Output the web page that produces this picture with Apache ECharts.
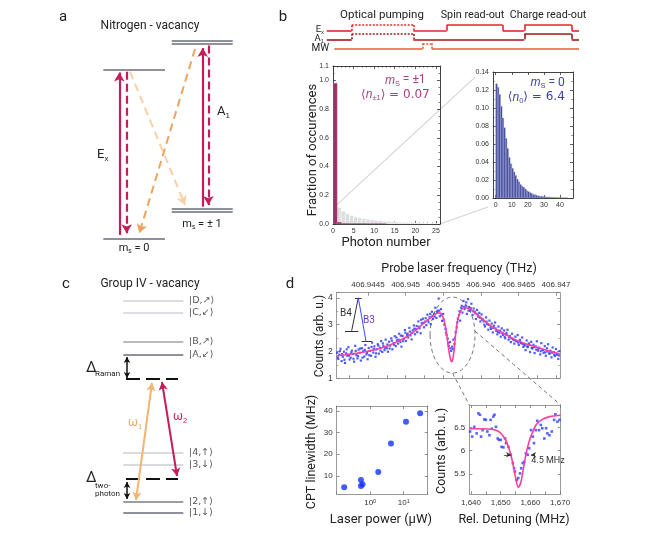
<!DOCTYPE html>
<html>
<head>
<meta charset="utf-8">
<script src="https://cdn.jsdelivr.net/npm/echarts@6/dist/echarts.min.js"></script>
<style>
html, body { margin: 0; background: #fff; }
#chart { width: 664px; height: 538px; }
</style>
</head>
<body>
<div id="chart"></div>
<script>
// ---- data ----
// a: NV centre levels (arb. units): ms=0, ms=±1, Ex, A1
const nvEnergy = [0, 0.168, 1.0, 1.165]
// c: group IV levels (arb. units), bottom to top
const g4Energy = [0, 11, 48, 60, 158, 171, 200, 212]
const g4Labels = ['|1,↓⟩', '|2,↑⟩', '|3,↓⟩', '|4,↑⟩', '|A,↙⟩', '|B,↗⟩', '|C,↙⟩', '|D,↗⟩']
const g4Virtual = [34, 134]
// b: pulse sequence (time units)
const seqEnd = 252.3
const pumpWindow = [25, 86.6]
const exPulses = [[120, 176], [197.6, 245]]
const a1Pulses = [[197.6, 245]]
const mwStart = 7.6
const mwWindow = [96, 105]
// b: photon number histograms, bin n = 0, 1, 2 ...
const dark1Hist = [0.98, 0.012, 0.004, 0.004, 0.003, 0.003, 0.003, 0.003, 0.002, 0.002, 0.002, 0.002, 0.001]
const bright0Ghost = [0.12, 0.115, 0.09, 0.072, 0.06, 0.05, 0.044, 0.039, 0.034, 0.03, 0.026, 0.023, 0.02,
  0.018, 0.016, 0.014, 0.012, 0.011, 0.009, 0.008, 0.007, 0.006, 0.005, 0.004, 0.003, 0.002]
const bright0Hist = [0.127, 0.123, 0.115, 0.102, 0.089, 0.078, 0.066, 0.055, 0.045, 0.038, 0.033, 0.029,
  0.025, 0.021, 0.018, 0.015, 0.013, 0.012, 0.010, 0.008, 0.007, 0.006, 0.005, 0.004, 0.0035, 0.003,
  0.0025, 0.002, 0.002, 0.0018, 0.0015, 0.0012, 0.001, 0.001, 0.0008, 0.0007, 0.0006, 0.0005, 0.0004,
  0.0003, 0.0003, 0.0002, 0.0002, 0.0001, 0.0001]
// d: probe scan, x = MHz above 406.944 THz
const probeOffsetTHz = 406.944
const probeTicks = [500, 1000, 1500, 2000, 2500, 3000]
const probeScan = [
  [90,1.95],[105,1.72],[120,1.88],[135,2.10],[150,1.64],[165,1.80],[180,1.99],[195,1.57],[210,1.93],[225,1.84],
  [240,2.16],[255,1.70],[270,1.77],[285,2.03],[300,1.91],[315,1.62],[330,2.21],[345,1.86],[360,1.74],[375,2.07],
  [390,1.95],[405,1.66],[420,2.12],[435,2.00],[450,1.81],[465,2.24],[480,1.89],[495,1.71],[510,2.13],[525,2.02],
  [540,1.84],[555,2.33],[570,1.96],[585,2.19],[600,1.80],[615,2.08],[630,2.27],[645,1.92],[660,2.14],[675,2.39],
  [690,1.98],[705,2.21],[720,2.05],[735,2.44],[750,2.12],[765,1.99],[780,2.36],[795,2.22],[810,2.49],[825,2.08],
  [840,2.31],[855,2.57],[870,2.20],[885,2.41],[900,2.29],[915,2.66],[930,2.35],[945,2.18],[960,2.58],[975,2.47],
  [990,2.80],[1005,2.39],[1020,2.61],[1035,2.52],[1050,2.88],[1065,2.60],[1080,2.45],[1095,2.79],[1110,2.97],[1125,2.64],
  [1140,2.83],[1155,2.72],[1170,3.12],[1185,2.86],[1200,2.68],[1215,3.05],[1230,3.22],[1245,2.90],[1260,3.11],[1275,2.98],
  [1290,3.37],[1305,3.09],[1320,3.28],[1335,3.02],[1350,3.48],[1365,3.21],[1380,3.40],[1395,3.63],[1410,3.25],[1425,3.52],
  [1440,3.97],[1455,3.31],[1470,3.58],[1485,3.14],[1500,3.40],[1515,3.00],[1530,2.84],[1545,2.62],[1560,2.48],[1575,2.21],
  [1590,2.35],[1605,2.02],[1620,2.18],[1635,2.44],[1650,2.28],[1665,2.72],[1680,2.90],[1695,3.22],[1710,3.36],[1725,3.15],
  [1740,3.62],[1755,3.45],[1770,3.88],[1785,3.58],[1800,3.71],[1815,3.40],[1830,3.95],[1845,3.66],[1860,3.52],[1875,3.78],
  [1890,3.36],[1905,3.60],[1920,3.48],[1935,3.21],[1950,3.55],[1965,3.30],[1980,3.44],[1995,3.12],[2010,3.38],[2025,3.20],
  [2040,3.12],[2055,2.93],[2070,3.27],[2085,3.02],[2100,2.81],[2115,3.15],[2130,2.90],[2145,3.04],[2160,2.71],[2175,2.96],
  [2190,3.08],[2205,2.77],[2220,2.64],[2235,2.93],[2250,2.70],[2265,2.55],[2280,2.86],[2295,2.62],[2310,2.78],[2325,2.49],
  [2340,2.69],[2355,2.81],[2370,2.44],[2385,2.58],[2400,2.35],[2415,2.66],[2430,2.47],[2445,2.29],[2460,2.55],[2475,2.38],
  [2490,2.61],[2505,2.24],[2520,2.43],[2535,2.31],[2550,2.52],[2565,2.17],[2580,2.22],[2595,2.05],[2610,2.41],[2625,2.16],
  [2640,2.30],[2655,1.98],[2670,2.36],[2685,2.11],[2700,2.25],[2715,1.94],[2730,2.19],[2745,2.38],[2760,2.03],[2775,2.14],
  [2790,1.89],[2805,2.31],[2820,2.06],[2835,1.95],[2850,2.20],[2865,1.84],[2880,2.12],[2895,2.27],[2910,1.92],[2925,2.03],
  [2940,1.78],[2955,2.15],[2970,1.97],[2985,1.83],[3000,2.09],[3015,1.88],[3030,1.72],[3045,2.01],
  [97,1.78],[127,2.01],[157,1.90],[187,1.69],[217,2.08],[247,1.85],[277,1.96],[307,1.73],[337,2.02],[367,1.83],
  [397,2.11],[427,1.77],[457,2.06],[487,1.95],[517,1.86],[547,2.17],[577,2.09],[607,1.93],[637,2.22],[667,2.03],
  [697,2.30],[727,2.14],[757,2.26],[787,2.11],[817,2.40],[847,2.25],[877,2.52],[907,2.44],[937,2.59],[967,2.38],
  [997,2.70],[1027,2.66],[1057,2.74],[1087,2.69],[1117,2.85],[1147,2.95],[1177,2.92],[1207,3.18],[1237,3.07],[1267,3.24],
  [1297,3.17],[1327,3.40],[1357,3.33],[1387,3.30],[1417,3.47],[1447,3.52],[1477,3.36],[1507,3.18],[1537,2.70],[1567,2.31],
  [1597,2.12],[1627,2.09],[1657,2.51],[1687,3.08],[1717,3.50],[1747,3.70],[1777,3.66],[1807,3.83],[1837,3.52],[1867,3.61],
  [1897,3.50],[1927,3.42],[1957,3.38],[1987,3.26],[2017,3.19],[2047,3.00],[2077,3.11],[2107,2.99],[2137,2.84],[2167,2.88],
  [2197,2.86],[2227,2.73],[2257,2.78],[2287,2.68],[2317,2.55],[2347,2.62],[2377,2.53],[2407,2.49],[2437,2.42],[2467,2.40],
  [2497,2.33],[2527,2.35],[2557,2.28],[2587,2.26],[2617,2.19],[2647,2.24],[2677,2.13],[2707,2.16],[2737,2.07],[2767,2.10],
  [2797,2.01],[2827,2.05],[2857,1.97],[2887,2.00],[2917,1.93],[2947,1.96],[2977,1.88],[3007,1.92],[3037,1.85]
]
const probeFit = [[84,1.83],[200,1.88],[350,1.93],[450,1.98],[570,2.05],[700,2.15],[793,2.24],[900,2.38],[1015,2.55],
  [1130,2.78],[1235,3.04],[1330,3.25],[1414,3.42],[1450,3.44],[1480,3.38],[1505,3.22],[1530,2.92],[1555,2.45],
  [1580,1.95],[1600,1.68],[1613,1.62],[1628,1.72],[1645,2.05],[1662,2.55],[1680,2.95],[1700,3.25],[1723,3.45],
  [1755,3.6],[1790,3.64],[1830,3.61],[1879,3.54],[1989,3.29],[2122,2.98],[2230,2.78],[2344,2.61],[2450,2.45],
  [2565,2.32],[2680,2.21],[2787,2.12],[2920,2.01],[3053,1.9]]
// d: CPT linewidth vs laser power
const cptPower = [0.167, 0.53, 0.53, 0.59, 1.74, 4.17, 11.7, 30.9]
const cptWidth = [4.8, 8.2, 5.4, 6.2, 11.8, 25, 35, 38.9]
// d: zoom on the CPT dip
const dipScan = [[1639.7,6.41],[1640.4,6.30],[1641.1,6.51],[1641.9,6.37],[1642.5,6.80],[1643,6.77],[1643.4,6.30],
  [1643.9,6.44],[1644.5,6.67],[1645,6.66],[1645.5,6.41],[1646.2,6.33],[1646.6,6.66],[1647,6.47],[1647.5,6.73],
  [1647.9,6.77],[1648.4,6.51],[1649,6.26],[1649.4,6.23],[1650,6.23],[1650.3,6.08],[1650.9,6.07],[1651.5,6.26],
  [1651.8,6.16],[1652.6,6.08],[1653.4,5.91],[1654.1,5.73],[1654.5,5.62],[1654.8,5.55],[1655.4,5.37],[1655.9,5.41],
  [1656.5,5.51],[1656.9,5.62],[1657.4,5.73],[1657.9,5.76],[1658.5,5.94],[1659.1,5.91],[1659.6,6.05],[1660.2,6.44],
  [1660.8,6.30],[1661.2,6.16],[1661.8,6.44],[1662.3,6.64],[1662.9,6.44],[1663.5,6.55],[1664,6.48],[1664.7,6.26],
  [1665.3,6.48],[1665.7,6.37],[1666.4,6.33],[1667.2,6.41],[1668,6.66],[1668.4,6.78],[1669.1,6.62],[1669.8,6.66]]
const dipFit = [[1639.5,6.47],[1644,6.47],[1647,6.46],[1649,6.42],[1650.5,6.34],[1652,6.18],[1653,6.0],[1654,5.75],
  [1655,5.42],[1655.9,5.21],[1656.8,5.32],[1657.6,5.6],[1658.5,5.92],[1659.5,6.18],[1660.5,6.36],[1662,6.56],
  [1664,6.67],[1666.5,6.73],[1670.2,6.76]]
const dipWidthMHz = 4.5

// ---- styles ----
const FONT = 'Roboto, "Liberation Sans", sans-serif'
const TICKFONT = '"Liberation Sans", Arial, sans-serif'
const CRIMSON = '#c41e5a'
const LEVEL = '#8e909c'
const g4Colors = ['#8e909c', '#9a9ca8', '#d9dae0', '#d9dae0', '#8e909c', '#b8bac4', '#dcdde2', '#dcdde2']

const chart = echarts.init(document.getElementById('chart'))

function seg(a, b, style, s1, s2, size) {
  return [
    { coord: a, symbol: s1 || 'none', symbolSize: size || 8, lineStyle: style },
    { coord: b, symbol: s2 || 'none', symbolSize: size || 8 }
  ]
}
function markSeries(xi, yi, lines) {
  return {
    type: 'line', xAxisIndex: xi, yAxisIndex: yi, data: [], silent: true,
    markLine: { silent: true, animation: false, symbol: 'none', label: { show: false },
      emphasis: { disabled: true }, data: lines }
  }
}
function hidden(grid, min, max) {
  return { gridIndex: grid, type: 'value', min, max, show: false }
}
function ax(grid, pos, o) {
  const c = o.color || '#333'
  return {
    gridIndex: grid, position: pos, type: o.type || 'value', min: o.min, max: o.max,
    interval: o.interval, logBase: 10,
    axisLine: { show: true, onZero: false, lineStyle: { color: o.line || c, width: 1 } },
    splitLine: { show: false },
    axisTick: { show: true, inside: true, length: 3, customValues: o.ticks, lineStyle: { color: c, width: 0.8 } },
    minorTick: { show: !!o.minor, splitNumber: o.minor || 5, length: 1.6, lineStyle: { color: c, width: 0.6 } },
    axisLabel: o.labels ? {
      show: true, customValues: o.labelValues, formatter: o.fmt, fontSize: o.fontSize || 8,
      color: '#333', margin: 4, fontFamily: TICKFONT, rich: o.rich
    } : { show: false }
  }
}

// ---- a: NV level diagram ----
const [E0, E1, EX, EA] = nvEnergy
const L = [3.3, 65], R = [71.7, 132.7]
const lv = { color: LEVEL, width: 2, type: 'solid' }
const nvLines = [
  seg([L[0], E0], [L[1], E0], lv),
  seg([L[0], EX], [L[1], EX], lv),
  seg([R[0], E1 - 0.01], [R[1], E1 - 0.01], lv),
  seg([R[0], E1 + 0.01], [R[1], E1 + 0.01], lv),
  seg([R[0], EA - 0.01], [R[1], EA - 0.01], lv),
  seg([R[0], EA + 0.01], [R[1], EA + 0.01], lv),
  seg([19.3, E0 + 0.02], [19.3, EX - 0.015], { color: CRIMSON, width: 2.2, type: 'solid' }, 'none', 'arrow', [8, 9]),
  seg([26.7, EX - 0.01], [26.7, E0 + 0.03], { color: CRIMSON, width: 2.2, type: [8, 4] }, 'none', 'arrow', [8, 9]),
  seg([102.7, E1 + 0.02], [102.7, EA - 0.035], { color: CRIMSON, width: 2.2, type: 'solid' }, 'none', 'arrow', [8, 9]),
  seg([108.3, EA - 0.02], [108.3, E1 + 0.03], { color: CRIMSON, width: 2.2, type: [8, 4] }, 'none', 'arrow', [8, 9]),
  seg([30, EX - 0.01], [85, E1 + 0.03], { color: '#f7cfa8', width: 2, type: [8, 5] }, 'none', 'arrow', [8, 9]),
  seg([95, EA - 0.04], [39.3, E0 + 0.03], { color: '#eca45e', width: 2, type: [8, 5] }, 'none', 'arrow', [8, 9])
]

// ---- c: group IV level diagram ----
const g4Lines = g4Energy.map((e, i) => seg([23.3, e], [83.3, e], { color: g4Colors[i], width: 2, type: 'solid' }))
g4Virtual.forEach(e => g4Lines.push(seg([26, e], [78, e], { color: '#111', width: 2.2, type: [14, 6] })))
g4Lines.push(
  seg([36, g4Energy[1] + 2], [52, g4Virtual[1] - 4], { color: '#f2b474', width: 2, type: 'solid' }, 'arrow', 'arrow', [7, 8]),
  seg([62, g4Virtual[1] - 3], [77, g4Virtual[0] + 3], { color: CRIMSON, width: 2, type: 'solid' }, 'arrow', 'arrow', [7, 8]),
  seg([27, g4Energy[4] - 2], [27, g4Virtual[1] + 1], { color: '#111', width: 1.5, type: 'solid' }, 'arrow', 'arrow', [5, 6]),
  seg([27, g4Virtual[0] - 3], [27, g4Energy[1] + 3], { color: '#111', width: 1.5, type: 'solid' }, 'arrow', 'arrow', [5, 6])
)

// ---- b: pulse sequence ----
function pulseTrain(base, amp, start, pulses, dotted, color) {
  const solid = { color, width: 1.6, type: 'solid' }
  const dots = { color, width: 1.6, type: [2, 1.5] }
  const ev = pulses.map(p => ({ a: p[0], b: p[1], st: solid }))
  if (dotted) ev.push({ a: dotted[0], b: dotted[1], st: dots })
  ev.sort((p, q) => p.a - q.a)
  const out = []
  let t = start
  const hi = base + amp
  ev.forEach(p => {
    if (p.a > t) out.push(seg([t, base], [p.a, base], solid))
    out.push(seg([p.a, base], [p.a, hi], p.st), seg([p.a, hi], [p.b, hi], p.st), seg([p.b, hi], [p.b, base], p.st))
    t = p.b
  })
  out.push(seg([t, base], [seqEnd, base], solid))
  return out
}
const seqLines = [
  ...pulseTrain(2.27, 0.67, 0, exPulses, pumpWindow, '#e4262c'),
  ...pulseTrain(1.26, 0.62, 0, a1Pulses, pumpWindow, '#a3191c'),
  ...pulseTrain(0.15, 0.64, mwStart, [], mwWindow, '#f05a30')
]

// ---- histograms ----
function histSeries(xi, yi, values, fill, stroke) {
  return {
    type: 'custom', xAxisIndex: xi, yAxisIndex: yi, silent: true, clip: true,
    data: values.map((v, n) => [n, v]), encode: { x: 0, y: 1 },
    renderItem(params, api) {
      const n = api.value(0), v = api.value(1)
      const p0 = api.coord([n, 0]), p1 = api.coord([n + 1, v])
      return { type: 'rect', shape: { x: p0[0], y: p1[1], width: p1[0] - p0[0], height: p0[1] - p1[1] },
        style: { fill, stroke, lineWidth: 0.5 } }
    }
  }
}

const supRich = { b: { fontSize: 8, fontFamily: TICKFONT, color: '#333' }, s: { fontSize: 5.5, fontFamily: TICKFONT, color: '#333', verticalAlign: 'top', lineHeight: 6, padding: [0, 0, 5, 0] } }
const HB = '#444', DB = '#9a9a9a'

const option = {
  animation: false,
  textStyle: { fontFamily: FONT },
  grid: [
    { left: 100, top: 36.3, width: 140, height: 202 },
    { left: 100, top: 283, width: 110, height: 230 },
    { left: 326.7, top: 20.25, width: 252.3, height: 29.75 },
    { left: 333, top: 66, width: 107, height: 158 },
    { left: 493, top: 72, width: 80, height: 126 },
    { left: 336.7, top: 292.7, width: 223.3, height: 85.6 },
    { left: 336.7, top: 406, width: 91, height: 88.3 },
    { left: 469.3, top: 405, width: 91.4, height: 89.3 }
  ],
  xAxis: [
    hidden(0, 0, 140),
    hidden(1, 0, 110),
    hidden(2, 0, seqEnd),
    ax(3, 'bottom', { min: 0, max: 26, interval: 5, minor: 5, labels: true, fontSize: 7, line: HB }),
    ax(3, 'top', { min: 0, max: 26, interval: 5, minor: 5, line: HB }),
    ax(4, 'bottom', { min: -1.68, max: 48.1, ticks: [0, 10, 20, 30, 40], labelValues: [0, 10, 20, 30, 40], labels: true, fontSize: 7, line: HB }),
    ax(4, 'top', { min: -1.68, max: 48.1, ticks: [0, 10, 20, 30, 40], line: HB }),
    ax(5, 'top', { min: 84, max: 3053, ticks: probeTicks, labelValues: probeTicks, labels: true, color: '#777', line: DB, fontSize: 8,
      fmt: v => String(+(probeOffsetTHz + v / 1e6).toFixed(4)) }),
    ax(5, 'bottom', { min: 84, max: 3053, ticks: [250, 500, 750, 1000, 1250, 1500, 1750, 2000, 2250, 2500, 2750, 3000], color: '#777', line: DB }),
    ax(6, 'bottom', { type: 'log', min: 0.1, max: 52, labels: true, color: '#777', line: DB, rich: supRich,
      fmt: v => (Math.abs(v - 1) < 1e-9 ? '{b|10}{s|0}' : Math.abs(v - 10) < 1e-9 ? '{b|10}{s|1}' : '') }),
    ax(6, 'top', { type: 'log', min: 0.1, max: 52, color: '#777', line: DB }),
    ax(7, 'bottom', { min: 1639.43, max: 1670.2, ticks: [1640, 1645, 1650, 1655, 1660, 1665, 1670], labelValues: [1640, 1650, 1660, 1670],
      labels: true, color: '#777', line: DB, fmt: v => v.toLocaleString('en-US') }),
    ax(7, 'top', { min: 1639.43, max: 1670.2, ticks: [1640, 1645, 1650, 1655, 1660, 1665, 1670], color: '#777', line: DB })
  ],
  yAxis: [
    hidden(0, 0, 1.2),
    hidden(1, 0, 230),
    hidden(2, 0, 3.5),
    ax(3, 'left', { min: 0, max: 1.1, interval: 0.2, minor: 4, labels: true, fontSize: 7, line: HB, fmt: v => v.toFixed(1) }),
    ax(3, 'right', { min: 0, max: 1.1, interval: 0.2, minor: 4, line: HB }),
    ax(4, 'left', { min: 0, max: 0.14, interval: 0.02, minor: 2, labels: true, fontSize: 7, line: HB, fmt: v => v.toFixed(2) }),
    ax(4, 'right', { min: 0, max: 0.14, interval: 0.02, minor: 2, line: HB }),
    ax(5, 'left', { min: 1, max: 4.19, interval: 1, minor: 2, labels: true, color: '#777', line: DB, fontSize: 8.5 }),
    ax(5, 'right', { min: 1, max: 4.19, interval: 1, minor: 2, color: '#777', line: DB }),
    ax(6, 'left', { min: 1.6, max: 42.2, ticks: [10, 20, 30, 40], labelValues: [10, 20, 30, 40], labels: true, color: '#777', line: DB }),
    ax(6, 'right', { min: 1.6, max: 42.2, ticks: [10, 20, 30, 40], color: '#777', line: DB }),
    ax(7, 'left', { min: 5.06, max: 6.98, ticks: [5.5, 6, 6.5], labelValues: [5.5, 6, 6.5], labels: true, color: '#777', line: DB, fmt: v => String(v) }),
    ax(7, 'right', { min: 5.06, max: 6.98, ticks: [5.5, 6, 6.5], color: '#777', line: DB })
  ],
  series: [
    markSeries(0, 0, nvLines),
    markSeries(1, 1, g4Lines),
    markSeries(2, 2, seqLines),
    histSeries(3, 3, bright0Ghost, '#dedede', '#ffffff'),
    histSeries(3, 3, dark1Hist, '#9e2f6a', '#c46a98'),
    histSeries(5, 5, bright0Hist, '#343990', '#a9b0dc'),
    { type: 'scatter', xAxisIndex: 7, yAxisIndex: 7, data: probeScan, symbol: 'rect', symbolSize: 2.2,
      itemStyle: { color: '#2f3fff', opacity: 0.85 }, silent: true },
    { type: 'line', xAxisIndex: 7, yAxisIndex: 7, data: probeFit, showSymbol: false, smooth: 0.25, silent: true,
      lineStyle: { color: '#ff3fa0', width: 1.6 } },
    markSeries(7, 7, [
      seg([327, 4.0], [416, 4.0], { color: '#333', width: 1, type: 'solid' }),
      seg([371, 4.0], [283, 2.77], { color: '#333', width: 1, type: 'solid' }),
      seg([194, 2.77], [372, 2.77], { color: '#333', width: 1, type: 'solid' }),
      seg([371, 4.0], [473, 2.39], { color: '#3b4bff', width: 1, type: 'solid' }),
      seg([416, 2.39], [549, 2.39], { color: '#333', width: 1, type: 'solid' })
    ]),
    { type: 'scatter', xAxisIndex: 9, yAxisIndex: 9, data: cptPower.map((p, i) => [p, cptWidth[i]]), symbolSize: 6,
      itemStyle: { color: '#1032ff' }, silent: true },
    { type: 'scatter', xAxisIndex: 11, yAxisIndex: 11, data: dipScan, symbol: 'rect', symbolSize: 2.6,
      itemStyle: { color: '#2f3fff' }, silent: true },
    { type: 'line', xAxisIndex: 11, yAxisIndex: 11, data: dipFit, showSymbol: false, smooth: 0.3, silent: true,
      lineStyle: { color: '#ff3fa0', width: 1.6 } },
    markSeries(11, 11, [
      seg([1651.1, 5.91], [1653.5, 5.91], { color: '#333', width: 0.8, type: 'solid' }, 'none', 'arrow', [4, 5]),
      seg([1651.1 + dipWidthMHz + 5.3, 5.91], [1653.5 + dipWidthMHz + 2.2, 5.91], { color: '#333', width: 0.8, type: 'solid' }, 'none', 'arrow', [4, 5])
    ])
  ]
}
chart.setOption(option)

// ---- text and annotation overlay, positioned from the grids ----
const px = (g, x, y) => chart.convertToPixel({ gridIndex: g }, [x, y])
function txt(text, x, y, o = {}) {
  const size = o.size || 12
  return {
    type: 'text', x, y, rotation: o.rot || 0, silent: true,
    style: {
      text, fill: o.color || '#222', fontSize: size, fontFamily: o.font || FONT,
      fontStyle: o.italic ? 'italic' : 'normal', align: o.align || 'center', verticalAlign: 'middle',
      rich: {
        s: { fontSize: size * 0.62, lineHeight: size * 0.62, padding: [size * 0.6, 0, 0, 0], fill: o.color || '#222' },
        i: { fontStyle: 'italic', fontSize: size, fill: o.color || '#222' }
      }
    }
  }
}
const g = []
g.push(txt('a', 63, 17, { size: 15 }), txt('b', 283, 17, { size: 15 }), txt('c', 66, 284, { size: 15 }), txt('d', 290, 284, { size: 15 }))
// a
g.push(txt('Nitrogen - vacancy', 150, 26, { size: 12 }))
let p = px(0, 0, (E0 + EX) / 2)
g.push(txt('E{s|x}', p[0] - 3, p[1] + 1, { size: 13, align: 'left' }))
p = px(0, 116, (E1 + EA) / 2)
g.push(txt('A{s|1}', p[0] + 1, p[1] - 14, { size: 13, align: 'left' }))
p = px(0, 34, E0)
g.push(txt('m{s|s} = 0', p[0], p[1] + 10, { size: 11 }))
p = px(0, 102, E1)
g.push(txt('m{s|s} = ± 1', p[0], p[1] + 14, { size: 11 }))
// c
g.push(txt('Group IV - vacancy', 150, 284, { size: 12 }))
g4Energy.forEach((e, i) => {
  const q = px(1, 89, e)
  g.push(txt(g4Labels[i], q[0], q[1], { size: 9.5, align: 'left', color: '#555', font: '"DejaVu Sans", sans-serif' }))
})
p = px(1, 0, g4Virtual[1])
g.push(txt('Δ', 86, p[1] - 11, { size: 15, align: 'left' }), txt('Raman', 95, p[1] - 5, { size: 8, align: 'left' }))
p = px(1, 0, g4Virtual[0])
g.push(txt('Δ', 86, p[1] - 1, { size: 15, align: 'left' }), txt('two-', 95, p[1] + 7, { size: 8, align: 'left' }),
  txt('photon', 95, p[1] + 15, { size: 8, align: 'left' }))
p = px(1, 28, 90)
g.push(txt('ω{s|1}', p[0], p[1], { size: 12, align: 'left', color: '#f0a860' }))
p = px(1, 73, 96)
g.push(txt('ω{s|2}', p[0], p[1], { size: 12, align: 'left', color: CRIMSON }))
// b
g.push(txt('Optical pumping', 382, 15, { size: 11.5 }), txt('Spin read-out', 472.5, 15, { size: 10.8 }),
  txt('Charge read-out', 548, 15, { size: 10.8 }))
g.push(txt('E{s|x}', 324, 29.5, { size: 9.5, align: 'right' }), txt('A{s|1}', 324, 38.5, { size: 9.5, align: 'right' }),
  txt('MW', 329, 48, { size: 10, align: 'right' }))
g.push(txt('Fraction of occurences', 313, 150, { size: 13, rot: Math.PI / 2 }), txt('Photon number', 386, 243, { size: 13 }))
p = px(3, 22.5, 1.0)
g.push(txt('{i|m}{s|S} = ±1', p[0], p[1], { size: 12, align: 'right', color: '#a8427a' }))
p = px(3, 23.5, 0.9)
g.push(txt('⟨{i|n}{s|±1}⟩ = 0.07', p[0], p[1], { size: 12, align: 'right', color: '#a8427a', font: '"DejaVu Sans", sans-serif' }))
p = px(4, 43, 0.128)
g.push(txt('{i|m}{s|S} = 0', p[0], p[1], { size: 12, align: 'right', color: '#3d44a0' }))
p = px(4, 43, 0.112)
g.push(txt('⟨{i|n}{s|0}⟩ = 6.4', p[0], p[1], { size: 12, align: 'right', color: '#3d44a0', font: '"DejaVu Sans", sans-serif' }))
const a0 = px(3, 0.7, 0.128), a1 = px(4, -13, 0.134)
const b0 = px(3, 26, 0), b1 = px(4, -4.8, -0.01)
g.push({ type: 'line', silent: true, shape: { x1: a0[0], y1: a0[1], x2: a1[0], y2: a1[1] }, style: { stroke: '#d4d4d4', lineWidth: 1.2 } })
g.push({ type: 'line', silent: true, shape: { x1: b0[0], y1: b0[1], x2: b1[0], y2: b1[1] }, style: { stroke: '#d4d4d4', lineWidth: 1.2 } })
// d
g.push(txt('Probe laser frequency (THz)', 459, 269, { size: 12.5 }))
g.push(txt('Counts (arb. u.)', 320, 336, { size: 12, rot: Math.PI / 2 }))
g.push(txt('CPT linewidth (MHz)', 312, 452, { size: 12.5, rot: Math.PI / 2 }))
g.push(txt('Laser power (µW)', 381, 520, { size: 13 }))
g.push(txt('Counts (arb. u.)', 442, 451, { size: 12.5, rot: Math.PI / 2 }))
g.push(txt('Rel. Detuning (MHz)', 514, 520, { size: 12.5 }))
p = px(5, 207, 3.43)
g.push(txt('B4', p[0], p[1], { size: 10, color: '#333' }))
p = px(5, 513, 3.17)
g.push(txt('B3', p[0], p[1], { size: 10, color: '#6a3fc0' }))
p = px(7, 1660.3, 5.79)
g.push(txt(dipWidthMHz + ' MHz', p[0], p[1], { size: 9, align: 'left', color: '#333' }))
const ec = px(5, 1624, 2.61)
const rx = 22.5, ry = 38
g.push({ type: 'ellipse', silent: true, shape: { cx: ec[0], cy: ec[1], rx, ry },
  style: { fill: 'none', stroke: '#777', lineWidth: 1, lineDash: [4, 3] } })
const tl = px(7, 1639.43, 6.98), tr = px(7, 1670.2, 6.98)
g.push({ type: 'line', silent: true, shape: { x1: ec[0], y1: ec[1] + ry, x2: tl[0], y2: tl[1] },
  style: { stroke: '#777', lineWidth: 1, lineDash: [4, 3] } })
g.push({ type: 'line', silent: true, shape: { x1: ec[0] + rx, y1: ec[1] - 4, x2: tr[0], y2: tr[1] },
  style: { stroke: '#777', lineWidth: 1, lineDash: [4, 3] } })

chart.setOption({ graphic: g })
</script>
</body>
</html>
